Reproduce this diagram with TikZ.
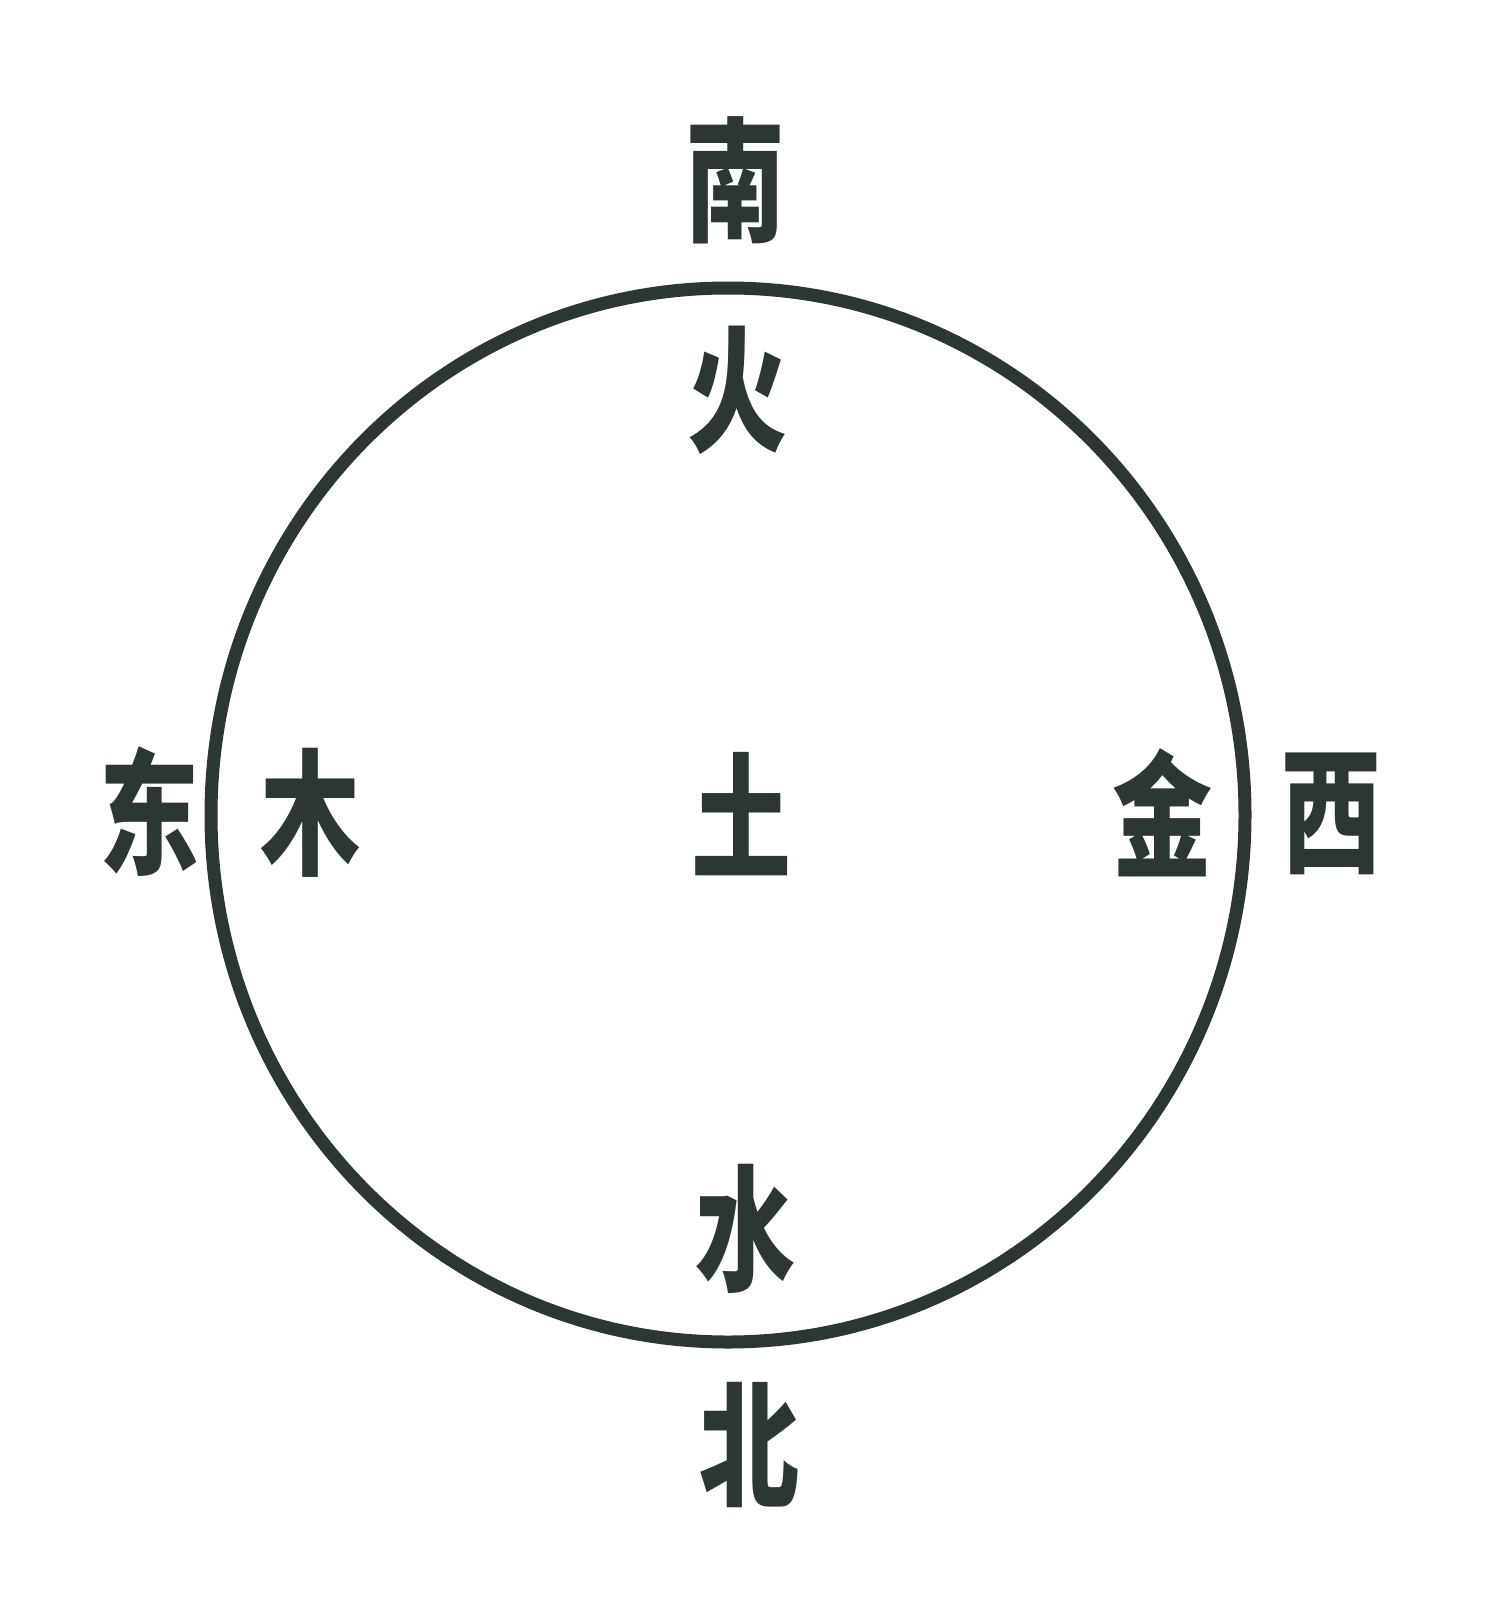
\documentclass[tikz,border=0pt]{standalone}
\usepackage{fontspec}
\newfontfamily\cjk{Noto Sans CJK SC}
\definecolor{ink}{RGB}{44,54,50}
\begin{document}
\begin{tikzpicture}[x=1pt,y=-1pt,
  lab/.style={font=\cjk\bfseries\fontsize{100}{106}\selectfont, text=ink, inner sep=0pt, yscale=1.36}]
\useasboundingbox (0,0) rectangle (1489,1601);
\fill[white] (0,0) rectangle (1489,1601);
\draw[ink, line width=13pt] (728,815) ellipse [x radius=517, y radius=527];
\node[lab] (nan) at (735,180) {南};
\node[lab] (huo) at (737,390) {火};
\node[lab] (dong) at (149,812) {东};
\node[lab] (mu) at (310,813) {木};
\node[lab] (tu) at (741,814) {土};
\node[lab] (jin) at (1162,813) {金};
\node[lab] (xi) at (1331,814) {西};
\node[lab] (shui) at (745,1229) {水};
\node[lab] (bei) at (749,1445) {北};
\end{tikzpicture}
\end{document}
